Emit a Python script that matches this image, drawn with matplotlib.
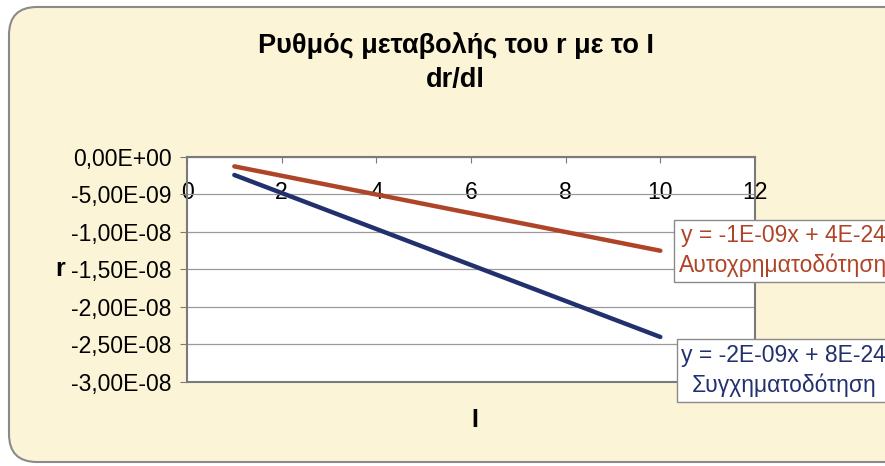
import matplotlib.pyplot as plt
from matplotlib.patches import FancyBboxPatch

# I values and rate of change of r for the two financing schemes
I = [1, 2, 3, 4, 5, 6, 7, 8, 9, 10]
r_auto = [-1.25e-9, -2.5e-9, -3.75e-9, -5.0e-9, -6.25e-9,
          -7.5e-9, -8.75e-9, -1.0e-8, -1.125e-8, -1.25e-8]
r_syn = [-2.4e-9, -4.8e-9, -7.2e-9, -9.6e-9, -1.2e-8,
         -1.44e-8, -1.68e-8, -1.92e-8, -2.16e-8, -2.4e-8]

x_ticks = [0, 2, 4, 6, 8, 10, 12]
y_ticks = [0, -5e-9, -1e-8, -1.5e-8, -2e-8, -2.5e-8, -3e-8]
y_labels = ['0,00E+00', '-5,00E-09', '-1,00E-08', '-1,50E-08',
            '-2,00E-08', '-2,50E-08', '-3,00E-08']

eq_auto = 'y = -1E-09x + 4E-24\nΑυτοχρηματοδότηση'
eq_syn = 'y = -2E-09x + 8E-24\nΣυγχηματοδότηση'

red = '#AE4528'
blue = '#22306E'

plt.rcParams['font.family'] = ['Liberation Sans', 'DejaVu Sans']

fig = plt.figure(figsize=(8.85, 4.66), dpi=100)
fig.patch.set_facecolor('white')

# rounded chart area, kept behind the axes
frame = FancyBboxPatch((0.09, 0.04), 9.2, 4.55,
                       boxstyle='round,pad=0,rounding_size=0.28',
                       transform=fig.dpi_scale_trans,
                       facecolor='#FCF4D6', edgecolor='#8A8A8A', lw=1.5,
                       zorder=-10)
fig.patches.append(frame)

ax = fig.add_axes([0.2113, 0.1803, 0.6418, 0.4828])
ax.set_facecolor('white')
ax.plot(I, r_auto, color=red, lw=3.2, solid_capstyle='round')
ax.plot(I, r_syn, color=blue, lw=3.2, solid_capstyle='round')

ax.set_xlim(0, 12)
ax.set_ylim(-3e-8, 0)
ax.set_yticks(y_ticks)
ax.set_yticklabels(y_labels)
ax.set_xticks(x_ticks)
ax.set_xticklabels([str(t) for t in x_ticks])
ax.yaxis.grid(True, color='#9A9A9A', lw=0.9)
ax.set_axisbelow(True)
for s in ax.spines.values():
    s.set_color('#7A7A7A')
    s.set_linewidth(1.5)

ax.tick_params(axis='y', direction='out', length=5, color='#7A7A7A',
               labelsize=16.5, pad=6)
ax.tick_params(axis='x', direction='in', length=4, color='#7A7A7A',
               bottom=False, top=True, labelbottom=False, labeltop=True,
               labelsize=16.5, pad=-34)

fig.text(0.515, 0.902, 'Ρυθμός μεταβολής του r με το I', ha='center',
         va='center', fontsize=19.5, fontweight='bold')
fig.text(0.515, 0.828, 'dr/dl', ha='center', va='center',
         fontsize=19.5, fontweight='bold')
fig.text(0.068, 0.423, 'r', ha='center', va='center',
         fontsize=18, fontweight='bold')
fig.text(0.536, 0.098, 'I', ha='center', va='center',
         fontsize=18, fontweight='bold')

box = dict(boxstyle='square,pad=0.2', facecolor='white',
           edgecolor='#8A8A8A', lw=1)
fig.text(0.767, 0.462, eq_auto, ha='left', va='center', color=red,
         fontsize=16.5, multialignment='center', linespacing=1.35, bbox=box)
fig.text(0.770, 0.205, eq_syn, ha='left', va='center', color=blue,
         fontsize=16.5, multialignment='center', linespacing=1.35, bbox=box)

fig.savefig('out.png', dpi=100)
